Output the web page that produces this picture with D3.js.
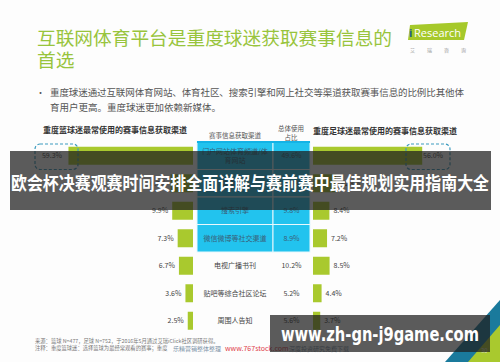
<!DOCTYPE html>
<html>
<head>
<meta charset="utf-8">
<script src="https://cdn.jsdelivr.net/npm/d3@7"></script>
<style>
  body { margin: 0; background: #fff; }
  svg { display: block; font-family: "Noto Sans CJK SC", "Noto Sans", sans-serif; }
</style>
</head>
<body>
<svg id="chart" width="500" height="362"></svg>
<script>
// data
var channels = ["门户网站体育频道/体育网站", "体育社区", "搜索引擎", "微信微博等社交渠道", "电视广播书刊", "贴吧等综合社区论坛", "周围人告知"];
var basketball = [59.3, 10.7, 9.9, 7.3, 6.7, 3.6, 2.5];
var overall = [49.6, 10.7, 9.8, 8.9, 10.2, 5.2, 5.6];
var football = [56.0, 11.8, 8.4, 7.2, 8.5, 4.4, 3.7];
var highlighted = 4; // first rows drawn in cyan

var GREEN = "#a9c92e", CYAN = "#22c3ee", TEXT = "#444";

var svg = d3.select("#chart");
svg.append("rect").attr("width", 500).attr("height", 362).attr("fill", "#fdfdfd");

// Title
var title = svg.append("text").attr("x", 37).attr("fill", "#98c43c")
    .style("font-size", "18.7px");
title.append("tspan").attr("x", 37).attr("y", 45).text("互联网体育平台是重度球迷获取赛事信息的");
title.append("tspan").attr("x", 37).attr("y", 67).text("首选");

// iResearch logo
svg.append("path").attr("d", "M410,25 L468,22 L464,40 L408,40 Z").attr("fill", "#a6c92a");
svg.append("text").attr("x", 414).attr("y", 37).attr("fill", "#fff")
    .style("font-family", "Open Sans, sans-serif").style("font-size", "11px").text("Research");
svg.append("text").attr("x", 409).attr("y", 37).attr("fill", "#1d5f8a")
    .style("font-family", "Open Sans, sans-serif").style("font-size", "11px").style("font-weight", "bold").text("i");
svg.append("text").attr("x", 410).attr("y", 52).attr("fill", "#999")
    .style("font-size", "5px").attr("textLength", 56).text("艾    瑞    咨    询");

// Bullet text
svg.append("text").attr("x", 36).attr("y", 96).attr("fill", "#555").style("font-size", "9px").text("•");
svg.append("text").attr("x", 50).attr("y", 96).attr("fill", "#555").style("font-size", "9.5px")
    .attr("textLength", 414).text("重度球迷通过互联网体育网站、体育社区、搜索引擎和网上社交等渠道获取赛事信息的比例比其他体");
svg.append("text").attr("x", 50).attr("y", 111).attr("fill", "#555").style("font-size", "9.5px")
    .text("育用户更高。重度球迷更加依赖新媒体。");

// Headings
svg.append("text").attr("x", 43).attr("y", 133).attr("fill", "#333").style("font-size", "8px")
    .style("font-weight", "bold").text("重度篮球迷最常使用的赛事信息获取渠道");
svg.append("text").attr("x", 313).attr("y", 134).attr("fill", "#333").style("font-size", "8px")
    .style("font-weight", "bold").text("重度足球迷最常使用的赛事信息获取渠道");
svg.append("text").attr("x", 235).attr("y", 138).attr("text-anchor", "middle").attr("fill", "#555")
    .style("font-size", "6.5px").text("赛事信息获取渠道");
svg.append("text").attr("x", 291).attr("y", 131).attr("text-anchor", "middle").attr("fill", "#555")
    .style("font-size", "6.5px").text("总体使用");
svg.append("text").attr("x", 291).attr("y", 140).attr("text-anchor", "middle").attr("fill", "#555")
    .style("font-size", "6.5px").text("占比");

// Scales
var y = d3.scaleBand().domain(channels).range([142, 334.5]);
var barH = 18;
var barY = function(c) { return y(c) + (y.bandwidth() - barH) / 2; };
var xL = d3.scaleLinear().domain([0, 60]).range([0, 126]);
var xR = d3.scaleLinear().domain([0, 60]).range([0, 117]);
var leftEdge = 193, rightEdge = 313;

// Left bars (basketball)
svg.append("g").selectAll("rect").data(channels).enter().append("rect")
    .attr("x", function(d, i) { return leftEdge - xL(basketball[i]); })
    .attr("y", barY)
    .attr("width", function(d, i) { return xL(basketball[i]); })
    .attr("height", barH)
    .attr("fill", GREEN);
svg.append("g").selectAll("text").data(channels).enter().append("text")
    .attr("x", function(d, i) { return i == 0 ? 62 : leftEdge - xL(basketball[i]) - 4; })
    .attr("y", function(d) { return y(d) + y.bandwidth() / 2 + 2.5; })
    .attr("text-anchor", "end").attr("fill", TEXT).style("font-size", "7px")
    .text(function(d, i) { return basketball[i].toFixed(1) + "%"; });

// Right bars (football)
svg.append("g").selectAll("rect").data(channels).enter().append("rect")
    .attr("x", rightEdge)
    .attr("y", barY)
    .attr("width", function(d, i) { return xR(football[i]); })
    .attr("height", barH)
    .attr("fill", GREEN);
svg.append("g").selectAll("text").data(channels).enter().append("text")
    .attr("x", function(d, i) { return i == 0 ? 423 : rightEdge + xR(football[i]) + 4; })
    .attr("y", function(d) { return y(d) + y.bandwidth() / 2 + 2.5; })
    .attr("fill", TEXT).style("font-size", "7px")
    .text(function(d, i) { return football[i].toFixed(1) + "%"; });

// Dashed callouts around the biggest values
[[35, 43], [406, 44]].forEach(function(b) {
    svg.append("rect").attr("x", b[0]).attr("y", y(channels[0]) + 2).attr("width", b[1])
        .attr("height", y.bandwidth() - 2).attr("rx", 5)
        .attr("fill", "none").attr("stroke", "#3d9cbf").attr("stroke-width", 1.2)
        .attr("stroke-dasharray", "3,2");
});

// Middle table
var colName = [197, 273], colVal = [273, 310];
var rows = svg.append("g").selectAll("g").data(channels).enter().append("g");
rows.filter(function(d, i) { return i < highlighted; }).each(function(d) {
    var g = d3.select(this);
    g.append("rect").attr("x", colName[0]).attr("y", y(d)).attr("width", colName[1] - colName[0])
        .attr("height", y.bandwidth()).attr("fill", CYAN).attr("stroke", "#e8f8fd").attr("stroke-width", 1);
    g.append("rect").attr("x", colVal[0]).attr("y", y(d)).attr("width", colVal[1] - colVal[0])
        .attr("height", y.bandwidth()).attr("fill", CYAN).attr("stroke", "#e8f8fd").attr("stroke-width", 1);
});
svg.append("line").attr("x1", colName[0]).attr("x2", colVal[1]).attr("y1", 142).attr("y2", 142)
    .attr("stroke", "#14b3e6").attr("stroke-width", 2);

rows.append("text")
    .attr("text-anchor", "middle").attr("fill", function(d, i) { return i < highlighted ? "#3a5f78" : TEXT; })
    .style("font-size", "7px")
    .each(function(d) {
        var lines = d.length > 10 ? [d.slice(0, 10), d.slice(10)] : [d];
        var cy = y(d) + y.bandwidth() / 2 + 2.5 - (lines.length - 1) * 4.5;
        var t = d3.select(this);
        lines.forEach(function(l, k) {
            t.append("tspan").attr("x", (colName[0] + colName[1]) / 2).attr("y", cy + k * 9).text(l);
        });
    });
rows.append("text")
    .attr("x", (colVal[0] + colVal[1]) / 2)
    .attr("y", function(d) { return y(d) + y.bandwidth() / 2 + 2.5; })
    .attr("text-anchor", "middle").attr("fill", function(d, i) { return i < highlighted ? "#3a5f78" : TEXT; })
    .style("font-size", "7px")
    .text(function(d, i) { return overall[i].toFixed(1) + "%"; });

// Footnotes
svg.append("text").attr("x", 35).attr("y", 343).attr("fill", "#777").style("font-size", "5.3px")
    .text("来源：篮球 N=477，足球 N=752，于2016年5月通过艾瑞iClick社区调研获得。");
svg.append("text").attr("x", 35).attr("y", 350).attr("fill", "#777").style("font-size", "5.3px")
    .text("注释：重度篮球迷：选择篮球为最经常观看的赛事；重度");
svg.append("text").attr("x", 173).attr("y", 351).attr("fill", "#7f93a8").style("font-size", "6px")
    .text("乐精营销整体整理");
svg.append("text").attr("x", 225).attr("y", 351).attr("fill", "#e0404a").style("font-size", "7px")
    .text("www.767stock.com");
svg.append("text").attr("x", 289).attr("y", 351).attr("fill", "#7f93a8").style("font-size", "6px")
    .text("深度投资研究免费下载");

// Corner decoration and page number
svg.append("path").attr("d", "M500,300 L500,362 L445,362 Z").attr("fill", "#1a7a9c");
svg.append("path").attr("d", "M500,325 L500,362 L468,362 Z").attr("fill", "#a9c92e");
svg.append("text").attr("x", 481).attr("y", 353).attr("fill", "#ddd").style("font-size", "6px").text("30");

// Overlay banners
svg.append("rect").attr("x", 10).attr("y", 151).attr("width", 481).attr("height", 59)
    .attr("fill", "rgba(30,30,30,0.73)");
svg.append("text").attr("x", 11).attr("y", 190).attr("fill", "#fff")
    .style("font-size", "18px").style("font-weight", "bold")
    .attr("textLength", 478).attr("lengthAdjust", "spacingAndGlyphs")
    .text("欧会杯决赛观赛时间安排全面详解与赛前赛中最佳规划实用指南大全");

svg.append("rect").attr("x", 270).attr("y", 315).attr("width", 220).attr("height", 37)
    .attr("fill", "rgba(30,30,30,0.73)");
svg.append("text").attr("x", 281).attr("y", 341).attr("fill", "#fff")
    .style("font-family", "DejaVu Sans, sans-serif").style("font-size", "19px").style("font-weight", "bold")
    .attr("textLength", 198).attr("lengthAdjust", "spacingAndGlyphs")
    .text("www.zh-gn-j9game.com");
</script>
</body>
</html>
